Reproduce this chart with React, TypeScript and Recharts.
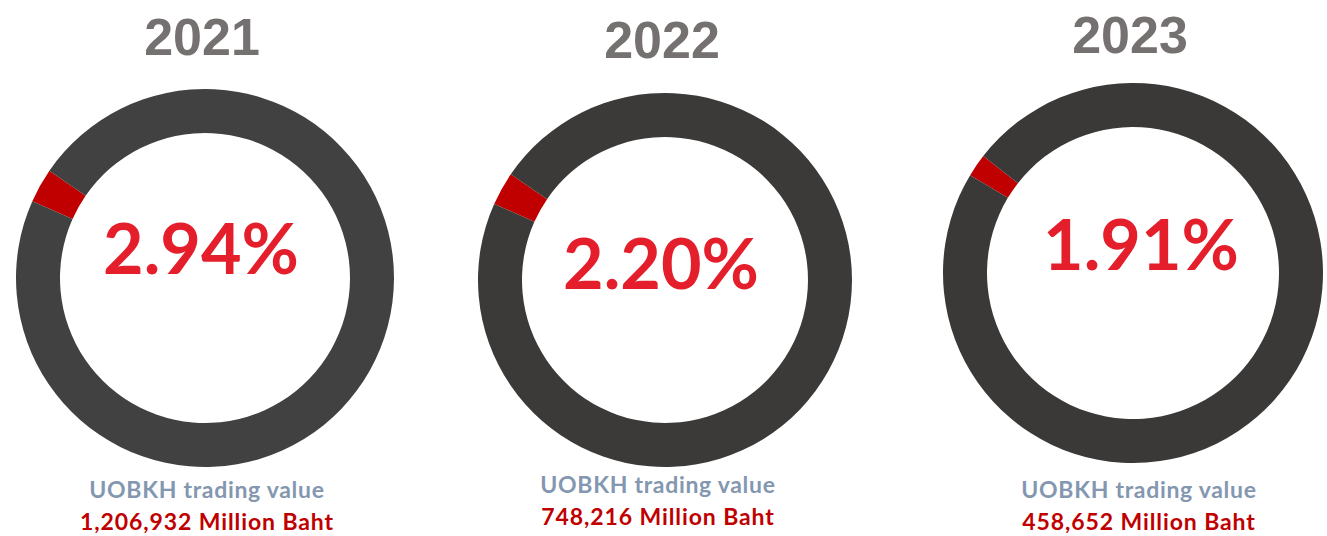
import { PieChart, Pie, Cell } from 'recharts';

// values
const years = ['2021', '2022', '2023'];
const shareLabels = ['2.94%', '2.20%', '1.91%'];
// size of the red wedge as drawn on each ring (% of the ring)
const wedgeShares = [2.94, 2.9, 1.94];
const tradingValues = ['1,206,932', '748,216', '458,652'];

const W = 1327;
const H = 536;

// layout for each ring: centre, radii, angle where the red wedge starts, ring colour
const rings = [
  { cx: 200, cy: 273, inner: 145, outer: 189, start: 156, dark: '#414141', yearY: 37, pctX: 201, pctY: 247, subX: 207, subY: 489 },
  { cx: 660, cy: 275, inner: 143, outer: 187, start: 156, dark: '#3b3a39', yearY: 40, pctX: 661, pctY: 262, subX: 658, subY: 484 },
  { cx: 1128, cy: 268, inner: 146, outer: 190, start: 149, dark: '#3a3937', yearY: 35, pctX: 1141, pctY: 243, subX: 1139, subY: 489 },
];

const RED = '#C00000';

function Centered({ x, y, style, children }: { x: number; y: number; style: React.CSSProperties; children: React.ReactNode }) {
  return (
    <div
      style={{
        position: 'absolute',
        left: x,
        top: y,
        transform: 'translate(-50%, -50%)',
        whiteSpace: 'nowrap',
        lineHeight: 1,
        ...style,
      }}
    >
      {children}
    </div>
  );
}

export default function App() {
  return (
    <div style={{ position: 'relative', width: W, height: H, background: '#fff' }}>
      <style>{'body{margin:0}'}</style>
      <PieChart width={W} height={H}>
        {rings.map((r, i) => (
          <Pie
            key={years[i]}
            data={[
              { name: 'UOBKH', value: wedgeShares[i] },
              { name: 'Others', value: 100 - wedgeShares[i] },
            ]}
            dataKey="value"
            cx={r.cx}
            cy={r.cy}
            innerRadius={r.inner}
            outerRadius={r.outer}
            startAngle={r.start}
            endAngle={r.start - 360}
            stroke="none"
            isAnimationActive={false}
          >
            <Cell fill={RED} />
            <Cell fill={r.dark} />
          </Pie>
        ))}
      </PieChart>
      {rings.map((r, i) => (
        <div key={years[i]}>
          <Centered
            x={r.cx + 2}
            y={r.yearY}
            style={{ fontFamily: '"Liberation Sans", Arial, sans-serif', fontWeight: 700, fontSize: 52, color: '#767171' }}
          >
            {years[i]}
          </Centered>
          <Centered
            x={r.pctX}
            y={r.pctY}
            style={{ fontFamily: 'Lato, sans-serif', fontWeight: 700, fontSize: 70, color: '#E41E2B' }}
          >
            {shareLabels[i]}
          </Centered>
          <Centered
            x={r.subX}
            y={r.subY}
            style={{ fontFamily: 'Lato, sans-serif', fontWeight: 700, fontSize: 23, letterSpacing: 0.7, color: '#8497B0' }}
          >
            UOBKH trading value
          </Centered>
          <Centered
            x={r.subX}
            y={r.subY + 32}
            style={{ fontFamily: 'Lato, sans-serif', fontWeight: 700, fontSize: 23, letterSpacing: 0.9, color: RED }}
          >
            {tradingValues[i]} Million Baht
          </Centered>
        </div>
      ))}
    </div>
  );
}
